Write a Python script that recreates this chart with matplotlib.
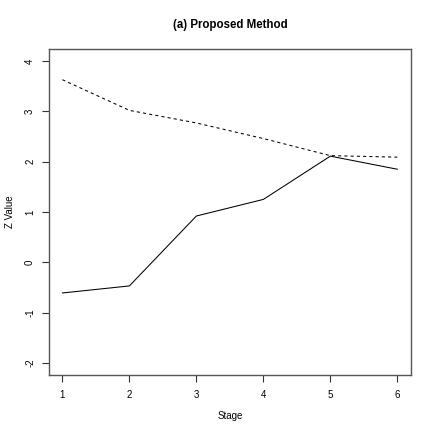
import matplotlib
matplotlib.use("Agg")
import matplotlib.pyplot as plt
from matplotlib import font_manager
import numpy as np

stages = [1, 2, 3, 4, 5, 6]
z_solid = [-0.61, -0.47, 0.92, 1.25, 2.11, 1.85]
z_dashed = [3.63, 3.02, 2.77, 2.46, 2.12, 2.09]
yticks = [-2, -1, 0, 1, 2, 3, 4]

# make sure the regular-width Liberation Sans is used, not the Narrow one
reg = [f for f in font_manager.findSystemFonts() if f.endswith('LiberationSans-Regular.ttf')]
bold = [f for f in font_manager.findSystemFonts() if f.endswith('LiberationSans-Bold.ttf')]
fp = font_manager.FontProperties(fname=reg[0]) if reg else font_manager.FontProperties(family='DejaVu Sans')
fpb = font_manager.FontProperties(fname=bold[0]) if bold else font_manager.FontProperties(family='DejaVu Sans', weight='bold')

fig = plt.figure(figsize=(4.36, 4.36), dpi=100)
ax = fig.add_axes([0.1124, 0.140, 0.8296, 0.7476])

ax.plot(stages, z_solid, color='black', lw=0.75)
ax.plot(stages, z_dashed, color='black', lw=0.75, linestyle=(0, (3, 3)))

# R style 4% padding
ax.set_xlim(1 - 0.2, 6 + 0.2)
ax.set_ylim(-2 - 0.24, 4 + 0.24)
ax.set_xticks(stages)
ax.set_xticklabels([str(v) for v in stages])
ax.set_yticks(yticks)
ax.set_yticklabels([str(v) for v in yticks], rotation=90, va='center')
for lab in ax.get_xticklabels() + ax.get_yticklabels():
    lab.set_fontproperties(fp)
    lab.set_fontsize(7)
ax.tick_params(axis='both', length=5, width=0.8, color='#333333')
ax.tick_params(axis='x', pad=6)
ax.tick_params(axis='y', pad=5)
for s in ax.spines.values():
    s.set_linewidth(1.0)
    s.set_color('#555555')

ax.set_xlabel('Stage', fontproperties=fp, fontsize=7, va='center')
ax.xaxis.set_label_coords(0.5, (375 - 416) / 326)
ax.set_ylabel('Z Value', fontproperties=fp, fontsize=7, va='center')
ax.yaxis.set_label_coords((10 - 49) / 361.7, 0.5)
ax.text(0.5, 1 + 24.5 / 326, '(a) Proposed Method', transform=ax.transAxes,
        ha='center', va='center', fontproperties=fpb, fontsize=8.3)

fig.savefig('out.png', dpi=100)
